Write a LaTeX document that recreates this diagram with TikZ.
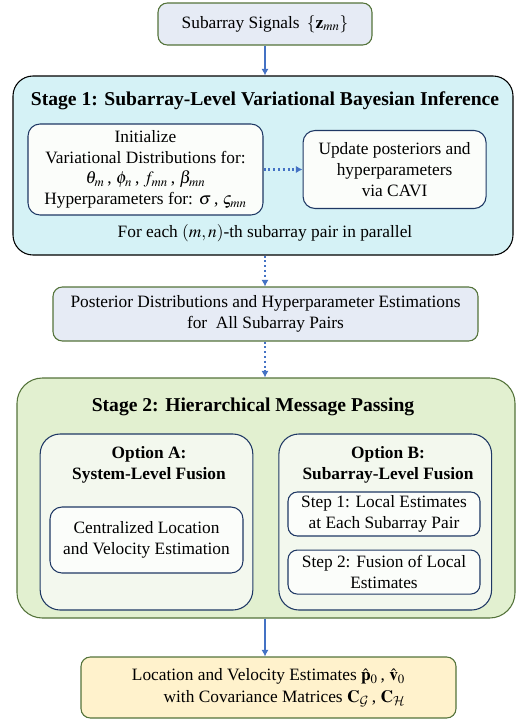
\documentclass[tikz,border=0pt]{standalone}
\usepackage{amsmath, amssymb}
\usepackage{mathptmx}
\usepackage{fontspec}
\setmainfont{Liberation Serif}
\DeclareMathAlphabet{\mathcal}{OMS}{cmsy}{m}{n}
\usetikzlibrary{positioning, arrows.meta}

\definecolor{flowblue}{HTML}{4472C4}
\definecolor{boxgreen}{HTML}{54733A}
\definecolor{navy}{HTML}{1F3864}
\definecolor{sigfill}{HTML}{E6EBF5}
\definecolor{stonefill}{HTML}{D5F2F6}
\definecolor{sttwofill}{HTML}{E2F0D0}
\definecolor{optfill}{HTML}{F3F8EE}
\definecolor{finfill}{HTML}{FFF2CC}

\tikzset{
	txt/.style={font=\fontsize{13}{15.5}\selectfont, align=center, inner sep=0pt},
	top/.style={txt, draw=boxgreen, line width=0.8pt, fill=sigfill, rounded corners=7pt},
	stage/.style={draw, line width=0.8pt, rounded corners=15pt},
	ttl/.style={font=\fontsize{14.7}{17}\bfseries, inner sep=0pt},
	inbox/.style={txt, draw=navy, line width=0.8pt, fill=white!70!optfill, rounded corners=9pt},
	optbox/.style={draw=navy, line width=0.8pt, fill=optfill, rounded corners=15pt,
		minimum width=159.5pt, minimum height=132pt},
	flow/.style={flowblue, line width=1.6pt, -{Latex[length=5pt, width=5.5pt]}},
	dots/.style={flow, dash pattern=on 1.6pt off 2pt}
}

\begin{document}
\begin{tikzpicture}[x=0.75pt, y=-0.75pt]
	\useasboundingbox (0,0) rectangle (521,721);
	
	\node[top, minimum width=160.5pt, minimum height=31.5pt] (sig) at (265,24)
		{Subarray Signals\, $\left\{\mathbf{z}_{mn}\right\}$};
	
	% stage 1
	\node[stage, fill=stonefill, minimum width=375pt, minimum height=134.25pt] (st1) at (263,165.5) {};
	\node[ttl] (t1) at (265,101) {Stage 1: Subarray-Level Variational Bayesian Inference};
	\node[inbox, minimum width=176.25pt, minimum height=68.25pt] (init) at (145.5,169.5)
		{Initialize\\ Variational Distributions for:\\
		$\theta_m$\,, $\phi_n$\,, $f_{mn}$\,, $\beta_{mn}$\\
		Hyperparameters for: $\sigma$\,, $\varsigma_{mn}$};
	\node[inbox, right=29.25pt of init, minimum width=137.25pt, minimum height=58.5pt] (cavi)
		{Update posteriors and\\ hyperparameters\\ via CAVI};
	\node[txt] (par) at (265,233) {For each $(m,n)$-th subarray pair in parallel};
	
	\node[top, minimum width=318.75pt, minimum height=40.5pt] (post) at (265.5,314)
		{Posterior Distributions and Hyperparameter Estimations\\ for\ \ All Subarray Pairs};
	
	% stage 2
	\node[stage, draw=boxgreen, fill=sttwofill, rounded corners=19pt,
		minimum width=373.5pt, minimum height=180pt] (st2) at (266,498) {};
	\node[ttl] (t2) at (253,407) {Stage 2: Hierarchical Message Passing};
	\node[optbox] (optA) at (146.5,522) {};
	\node[optbox, right=18.75pt of optA] (optB) {};
	\node[txt, font=\fontsize{13}{15.5}\bfseries] (tA) at (149,465) {Option A:\\ System-Level Fusion};
	\node[txt, font=\fontsize{13}{15.5}\bfseries] (tB) at (388,465) {Option B:\\ Subarray-Level Fusion};
	\node[inbox, minimum width=144.75pt, minimum height=49.5pt] (cent) at (146.5,540)
		{Centralized Location\\ and Velocity Estimation};
	\node[inbox, minimum width=144pt, minimum height=33pt, rounded corners=7pt] (s1) at (384,514)
		{Step 1: Local Estimates\\ at Each Subarray Pair};
	\node[inbox, below=9.75pt of s1, minimum width=144pt, minimum height=33pt, rounded corners=7pt] (s2)
		{Step 2: Fusion of Local\\ Estimates};
	
	\node[top, fill=finfill, minimum width=281.25pt, minimum height=45.75pt] (fin) at (268.5,687.5)
		{\begin{tabular}{@{}r@{}}
			Location and Velocity Estimates\ $\hat{\mathbf{p}}_0$\,, $\hat{\mathbf{v}}_0$\\[1pt]
			with Covariance Matrices\ $\mathbf{C}_{\mathcal{G}}$\,, $\mathbf{C}_{\mathcal{H}}$
		\end{tabular}};
	
	\draw[flow] (sig) -- (sig |- st1.north);
	\draw[dots] (init) -- (cavi);
	\draw[dots] (st1.south -| sig) -- (post.north -| sig);
	\draw[dots] (post.south -| sig) -- (st2.north -| sig);
	\draw[flow] (st2.south -| sig) -- (fin.north -| sig);
\end{tikzpicture}
\end{document}
